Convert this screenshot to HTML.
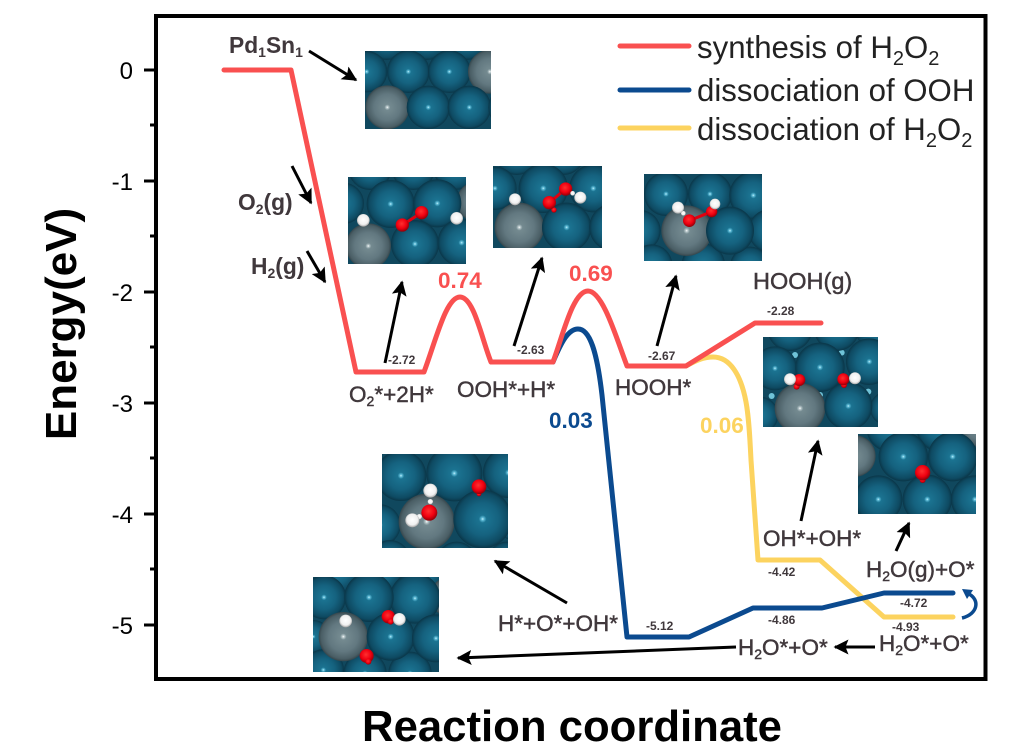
<!DOCTYPE html>
<html><head><meta charset="utf-8"><style>
html,body{margin:0;padding:0;background:#fff}
svg{display:block}
text{font-family:"Liberation Sans",sans-serif}
.l{font-size:22.5px;fill:#40383c;stroke:#40383c;stroke-width:.45}
.b{font-size:22.8px;font-weight:bold;fill:#40383c}
.s{font-size:12px;font-weight:bold;fill:#40383c}
.n{font-size:22.500px;font-weight:bold}
.t{font-size:24px;fill:#000}
.g{font-size:31.2px;fill:#222}
.ar{stroke:#000;stroke-width:3;fill:none;marker-end:url(#ah)}
.c{fill:none;stroke-width:5;stroke-linejoin:round;stroke-linecap:round}
.T{fill:url(#tl)}.G{fill:url(#gr)}.O{fill:url(#ox)}.H{fill:url(#hy)}
.bd{stroke:#e00010;stroke-width:9}
</style></head><body>
<svg width="1036" height="746" viewBox="0 0 1036 746" xmlns="http://www.w3.org/2000/svg">
<defs>
<radialGradient id="tl" cx=".5" cy=".5" r=".5"><stop offset="0" stop-color="#c8f4ff"/><stop offset=".05" stop-color="#5ab8d4"/><stop offset=".13" stop-color="#1b7391"/><stop offset=".55" stop-color="#15627f"/><stop offset=".88" stop-color="#0e4a62"/><stop offset="1" stop-color="#0a3648"/></radialGradient>
<radialGradient id="gr" cx=".5" cy=".5" r=".5"><stop offset="0" stop-color="#fff"/><stop offset=".05" stop-color="#b5c5c8"/><stop offset=".13" stop-color="#748a90"/><stop offset=".6" stop-color="#627880"/><stop offset=".9" stop-color="#4a5e65"/><stop offset="1" stop-color="#36464c"/></radialGradient>
<radialGradient id="ox" cx=".45" cy=".4" r=".6"><stop offset="0" stop-color="#ff3030"/><stop offset=".6" stop-color="#f00010"/><stop offset="1" stop-color="#900008"/></radialGradient>
<radialGradient id="hy" cx=".5" cy=".45" r=".55"><stop offset="0" stop-color="#fff"/><stop offset=".7" stop-color="#f0f0f0"/><stop offset="1" stop-color="#a0a0a0"/></radialGradient>
<marker id="ah" viewBox="0 0 10 10" refX="9" refY="5" markerWidth="5" markerHeight="5" orient="auto" markerUnits="strokeWidth"><path d="M0 0L10 5L0 10L2 5Z" fill="#000"/></marker>
<clipPath id="p1"><rect x="365" y="51" width="126" height="78"/></clipPath>
<clipPath id="p2"><rect x="348" y="177" width="118" height="87"/></clipPath>
<clipPath id="p3"><rect x="493" y="166" width="109" height="82"/></clipPath>
<clipPath id="p4"><rect x="644" y="174" width="118" height="87"/></clipPath>
<clipPath id="p5"><rect x="763" y="337" width="115" height="90"/></clipPath>
<clipPath id="p6"><rect x="858" y="434" width="118" height="80"/></clipPath>
<clipPath id="p7"><rect x="382" y="454" width="126" height="94"/></clipPath>
<clipPath id="p8"><rect x="313" y="577" width="126" height="95"/></clipPath>
</defs>

<!-- frame -->
<rect x="156" y="16" width="829.500" height="663" fill="none" stroke="#000" stroke-width="4"/>
<g stroke="#000" stroke-width="3">
<path d="M144 70H156M144 181H156M144 292H156M144 403H156M144 514H156M144 625H156"/>
<path d="M150 125H156M150 236H156M150 347H156M150 458H156M150 569H156"/>
</g>
<text x="133" y="79" class="t" text-anchor="end">0</text><text x="133" y="190" class="t" text-anchor="end">-1</text><text x="133" y="301" class="t" text-anchor="end">-2</text><text x="133" y="412" class="t" text-anchor="end">-3</text><text x="133" y="523" class="t" text-anchor="end">-4</text><text x="133" y="634" class="t" text-anchor="end">-5</text>
<text transform="translate(76,324) rotate(-90)" text-anchor="middle" font-size="44" font-weight="bold">Energy(eV)</text>
<text x="572" y="741" text-anchor="middle" font-size="43.700" font-weight="bold">Reaction coordinate</text>

<!-- legend -->
<g class="c"><path d="M620 46H689" stroke="#f95050"/><path d="M620 90H689" stroke="#0b4a8f"/><path d="M620 128H689" stroke="#fcd35f"/></g>
<text x="697" y="58" class="g">synthesis of H<tspan dy="7" font-size="20">2</tspan><tspan dy="-7">O</tspan><tspan dy="7" font-size="20">2</tspan></text>
<text x="697" y="101" class="g">dissociation of OOH</text>
<text x="697" y="140" class="g">dissociation of H<tspan dy="7" font-size="20">2</tspan><tspan dy="-7">O</tspan><tspan dy="7" font-size="20">2</tspan></text>

<!-- panels -->
<g clip-path="url(#p1)"><rect x="365" y="51" width="126" height="78" fill="#10485e"/>
<g transform="translate(200,20) scale(.3333)">
<circle class="T" cx="560" cy="55" r="65"/><circle class="T" cx="680" cy="55" r="65"/><circle class="T" cx="800" cy="55" r="65"/>
<circle class="T" cx="500" cy="155" r="62"/><circle class="T" cx="625" cy="155" r="64"/><circle class="T" cx="748" cy="155" r="64"/><circle class="G" cx="870" cy="155" r="66"/>
<circle class="G" cx="562" cy="262" r="66"/><circle class="T" cx="685" cy="262" r="65"/><circle class="T" cx="808" cy="262" r="65"/><circle class="T" cx="930" cy="262" r="65"/>
</g></g>

<g clip-path="url(#p2)"><rect x="348" y="177" width="118" height="87" fill="#10485e"/>
<g transform="translate(200,20) scale(.3333)">
<circle class="T" cx="510" cy="445" r="65"/><circle class="T" cx="640" cy="445" r="65"/><circle class="T" cx="765" cy="445" r="65"/>
<circle class="T" cx="430" cy="550" r="62"/><circle class="G" cx="830" cy="545" r="60"/><circle class="T" cx="572" cy="552" r="72"/><circle class="T" cx="712" cy="550" r="72"/>
<circle class="G" cx="505" cy="678" r="68"/><circle class="T" cx="645" cy="672" r="72"/><circle class="T" cx="785" cy="668" r="72"/>
<line class="bd" x1="607" y1="615" x2="665" y2="578"/><circle class="O" cx="607" cy="615" r="20"/><circle class="O" cx="665" cy="578" r="20"/><circle class="H" cx="490" cy="601" r="19"/><circle class="H" cx="770" cy="595" r="19"/>
</g></g>

<g clip-path="url(#p3)"><rect x="493" y="166" width="109" height="82" fill="#10485e"/>
<g transform="translate(200,20) scale(.3333)">
<circle class="T" cx="950" cy="400" r="65"/><circle class="T" cx="1090" cy="400" r="65"/>
<circle class="T" cx="885" cy="505" r="65"/><circle class="T" cx="1180" cy="505" r="72"/><circle class="T" cx="1030" cy="505" r="74"/>
<circle class="G" cx="958" cy="622" r="74"/><circle class="T" cx="1100" cy="622" r="74"/><circle class="T" cx="1240" cy="622" r="72"/>
<line class="bd" x1="1048" y1="548" x2="1097" y2="507"/><circle class="O" cx="1062" cy="570" r="8"/><circle class="O" cx="1048" cy="548" r="20"/><circle class="O" cx="1097" cy="507" r="20"/><circle class="H" cx="1118" cy="520" r="7"/><circle class="H" cx="945" cy="538" r="18"/><circle class="H" cx="1141" cy="533" r="18"/>
</g></g>

<g clip-path="url(#p4)"><rect x="644" y="174" width="118" height="87" fill="#10485e"/>
<g transform="translate(600,160) scale(.3333)">
<circle class="T" cx="198" cy="102" r="66"/><circle class="T" cx="330" cy="102" r="66"/><circle class="T" cx="460" cy="106" r="72"/>
<circle class="T" cx="120" cy="212" r="62"/><circle class="T" cx="510" cy="212" r="65"/><circle class="T" cx="155" cy="315" r="62"/><circle class="T" cx="310" cy="315" r="65"/><circle class="T" cx="450" cy="320" r="60"/>
<circle class="G" cx="260" cy="212" r="76"/><circle class="T" cx="390" cy="212" r="72"/>
<line class="bd" x1="268" y1="182" x2="335" y2="155"/><circle class="H" cx="250" cy="160" r="7"/><circle class="O" cx="268" cy="182" r="19"/><circle class="O" cx="335" cy="155" r="17"/><circle class="H" cx="234" cy="143" r="18"/><circle class="H" cx="345" cy="132" r="16"/>
</g></g>

<g clip-path="url(#p5)"><rect x="763" y="337" width="115" height="90" fill="#10485e"/>
<g transform="translate(600,160) scale(.3333)">
<circle cx="585" cy="585" r="9" fill="#6fc3d8"/><circle cx="725" cy="578" r="9" fill="#6fc3d8"/><circle cx="660" cy="705" r="9" fill="#6fc3d8"/><circle cx="805" cy="695" r="9" fill="#6fc3d8"/><circle cx="515" cy="708" r="9" fill="#6fc3d8"/>
<circle class="T" cx="570" cy="505" r="68"/><circle class="T" cx="710" cy="505" r="68"/><circle class="T" cx="830" cy="505" r="65"/>
<circle class="T" cx="525" cy="625" r="66"/><circle class="T" cx="808" cy="605" r="70"/><circle class="T" cx="660" cy="622" r="74"/>
<circle class="T" cx="480" cy="765" r="55"/><circle class="T" cx="860" cy="745" r="50"/>
<circle class="G" cx="600" cy="745" r="76"/><circle class="T" cx="745" cy="738" r="72"/>
<circle class="O" cx="590" cy="680" r="9"/><circle class="O" cx="732" cy="675" r="9"/><circle class="O" cx="598" cy="660" r="18"/><circle class="O" cx="730" cy="658" r="18"/><circle class="H" cx="570" cy="658" r="18"/><circle class="H" cx="765" cy="655" r="18"/>
</g></g>

<g clip-path="url(#p6)"><rect x="858" y="434" width="118" height="80" fill="#10485e"/>
<g transform="translate(680,420) scale(.3333)">
<circle class="T" cx="630" cy="25" r="70"/><circle class="T" cx="780" cy="25" r="70"/><circle class="G" cx="895" cy="20" r="60"/>
<circle class="G" cx="525" cy="108" r="62"/><circle class="T" cx="670" cy="110" r="74"/><circle class="T" cx="818" cy="110" r="74"/>
<circle class="T" cx="595" cy="238" r="72"/><circle class="T" cx="885" cy="238" r="72"/><circle class="T" cx="742" cy="238" r="74"/>
<circle class="O" cx="728" cy="180" r="9"/><circle class="O" cx="728" cy="158" r="23"/>
</g></g>

<g clip-path="url(#p7)"><rect x="382" y="454" width="126" height="94" fill="#10485e"/>
<g transform="translate(300,440) scale(.3333)">
<circle class="T" cx="303" cy="107" r="76"/><circle class="T" cx="625" cy="98" r="76"/><circle class="T" cx="463" cy="100" r="84"/>
<circle class="T" cx="240" cy="255" r="62"/><circle class="T" cx="640" cy="250" r="50"/><circle class="T" cx="270" cy="360" r="60"/><circle class="T" cx="470" cy="365" r="60"/><circle class="T" cx="620" cy="360" r="55"/>
<circle class="G" cx="380" cy="245" r="84"/><circle class="T" cx="548" cy="237" r="88"/>
<circle class="O" cx="537" cy="162" r="7"/><circle class="O" cx="537" cy="140" r="22"/><circle class="H" cx="391" cy="185" r="8"/><circle class="H" cx="358" cy="230" r="8"/><circle class="O" cx="388" cy="218" r="24"/><circle class="H" cx="391" cy="152" r="21"/><circle class="H" cx="337" cy="241" r="21"/>
</g></g>

<g clip-path="url(#p8)"><rect x="313" y="577" width="126" height="95" fill="#10485e"/>
<g transform="translate(300,440) scale(.3333)">
<circle class="T" cx="110" cy="395" r="65"/><circle class="T" cx="240" cy="395" r="65"/><circle class="T" cx="370" cy="395" r="65"/>
<circle class="T" cx="72" cy="472" r="66"/><circle class="G" cx="450" cy="470" r="60"/><circle class="T" cx="345" cy="475" r="76"/><circle class="T" cx="207" cy="472" r="74"/>
<circle class="T" cx="40" cy="590" r="50"/><circle class="T" cx="70" cy="690" r="62"/><circle class="T" cx="195" cy="700" r="65"/><circle class="T" cx="330" cy="700" r="65"/>
<circle class="G" cx="130" cy="590" r="74"/><circle class="T" cx="272" cy="590" r="72"/><circle class="T" cx="408" cy="595" r="72"/>
<circle class="O" cx="265" cy="530" r="20"/><circle class="O" cx="272" cy="545" r="9"/><circle class="O" cx="200" cy="648" r="21"/><circle class="O" cx="205" cy="665" r="9"/><circle class="H" cx="137" cy="543" r="19"/><circle class="H" cx="298" cy="538" r="19"/>
</g></g>

<!-- curves -->
<path class="c" stroke="#fcd35f" d="M686 366 C695 361 703 357 713 357 C730 357 741 375 746 402 C749 418 750 440 751 460 L758 560 H820 L884 617 H953"/>
<path class="c" stroke="#0b4a8f" d="M553 362 C561 343 568 329 578 329 C590 329 597 352 602 395 L627 637 H689 L753 608 H822 L884 593 H953"/>
<path class="c" stroke="#f95050" d="M224 70 H291 L356 372 H424 C436 340 446 297 460 297 C474 297 482 340 491 362 H553 C563 335 573 291 588 291 C603 291 617 340 627 366 H686 L755 323 H821"/>
<path d="M962 618 C978 614 980 600 969 594" fill="none" stroke="#0b4a8f" stroke-width="3.500"/>
<path d="M962 589 L973 590 L967 599 Z" fill="#0b4a8f"/>

<!-- arrows -->
<line class="ar" x1="309" y1="51" x2="356" y2="80"/>
<line class="ar" x1="292" y1="166" x2="311" y2="203"/>
<line class="ar" x1="307" y1="251" x2="325" y2="282"/>
<line class="ar" x1="385" y1="363" x2="402" y2="282"/>
<line class="ar" x1="514" y1="346" x2="542" y2="258"/>
<line class="ar" x1="657" y1="346" x2="676" y2="276"/>
<line class="ar" x1="801" y1="521" x2="818" y2="441"/>
<line class="ar" x1="896" y1="551" x2="909" y2="523"/>
<line class="ar" x1="567" y1="603" x2="495" y2="561"/>
<line class="ar" x1="736" y1="647" x2="458" y2="658"/>
<line class="ar" x1="875" y1="647" x2="835" y2="647"/>

<!-- labels -->
<text x="229" y="53" class="b">Pd<tspan dy="4" font-size="14">1</tspan><tspan dy="-4">Sn</tspan><tspan dy="4" font-size="14">1</tspan></text>
<text x="238" y="210" class="b">O<tspan dy="4" font-size="14">2</tspan><tspan dy="-4">(g)</tspan></text>
<text x="251" y="274" class="b">H<tspan dy="4" font-size="14">2</tspan><tspan dy="-4">(g)</tspan></text>
<text x="438" y="288" class="n" fill="#f95050">0.74</text>
<text x="569" y="281" class="n" fill="#f95050">0.69</text>
<text x="549" y="428" class="n" fill="#0b4a8f">0.03</text>
<text x="700" y="433" class="n" fill="#fcd35f">0.06</text>
<text x="349" y="402" class="l">O<tspan dy="4" font-size="14">2</tspan><tspan dy="-4">*+2H*</tspan></text>
<text x="457" y="397" class="l">OOH*+H*</text>
<text x="615" y="395" class="l">HOOH*</text>
<text x="753" y="289" class="l" style="font-size:23.5px">HOOH(g)</text>
<text x="763" y="546" class="l">OH*+OH*</text>
<text x="866" y="577" class="l">H<tspan dy="4" font-size="14">2</tspan><tspan dy="-4">O(g)+O*</tspan></text>
<text x="498" y="631" class="l">H*+O*+OH*</text>
<text x="738" y="655" class="l">H<tspan dy="4" font-size="14">2</tspan><tspan dy="-4">O*+O*</tspan></text>
<text x="879" y="651" class="l">H<tspan dy="4" font-size="14">2</tspan><tspan dy="-4">O*+O*</tspan></text>
<text x="388" y="364" class="s">-2.72</text>
<text x="517" y="354" class="s">-2.63</text>
<text x="648" y="360" class="s">-2.67</text>
<text x="767" y="315" class="s">-2.28</text>
<text x="768" y="576" class="s">-4.42</text>
<text x="768" y="624" class="s">-4.86</text>
<text x="900" y="607" class="s">-4.72</text>
<text x="892" y="631" class="s">-4.93</text>
<text x="646" y="630" class="s">-5.12</text>
</svg>
</body></html>
